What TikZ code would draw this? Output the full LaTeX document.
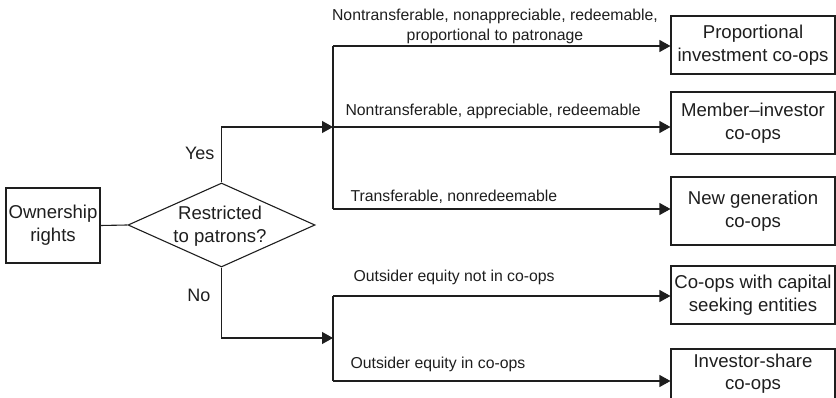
\documentclass[tikz,border=0pt]{standalone}
\usepackage{fontspec}
\setmainfont{Liberation Sans}
\usetikzlibrary{arrows.meta,shapes.geometric}
\definecolor{ink}{HTML}{1E1E1E}
\begin{document}
\begin{tikzpicture}[x=1pt,y=-1pt,
  line width=1.1pt, draw=ink, text=ink,
  every node/.style={inner sep=0pt},
  boxtext/.style={font=\fontsize{18.6}{23}\selectfont, align=center},
  catbox/.style={draw, boxtext, minimum width=164pt},
  decision/.style={draw, diamond, minimum width=187pt, minimum height=84pt},
  edgelabel/.style={font=\fontsize{15.8}{20}\selectfont, anchor=base west},
  branchlabel/.style={font=\fontsize{18}{22}\selectfont, anchor=base east},
  flow/.style={-{Triangle[length=11pt,width=12pt]}},
]
\useasboundingbox (0,0) rectangle (836,398);

% start and decision
\node[draw, boxtext, minimum width=94pt, minimum height=75pt] (own) at (53,225.5) {Ownership\\rights};
\node[decision] (q) at (221.5,225) {};
\node[boxtext] (qt) at (220,226) {Restricted\\to patrons?};

% outcome boxes
\node[catbox, minimum height=58pt] (b1) at (753,45)  {Proportional\\investment co-ops};
\node[catbox, minimum height=62pt] (b2) at (753,123) {Member--investor\\co-ops};
\node[catbox, minimum height=68pt] (b3) at (753,211) {New generation\\co-ops};
\node[catbox, minimum height=58pt] (b4) at (753,295) {Co-ops with capital\\seeking entities};
\node[catbox, minimum height=66pt] (b5) at (753,382) {};
\node[boxtext, font=\fontsize{18.6}{22}\selectfont] (b5t) at (753,374) {Investor-share\\co-ops};

% junction points on the two trunks
\coordinate (yj) at (333,127);
\coordinate (nj) at (333,338);
\coordinate (t1) at (333,46);
\coordinate (t3) at (333,209);
\coordinate (t4) at (333,296);
\coordinate (t5) at (333,381);

% connectors
\draw (own.east) -- (q.west);
\draw[flow] (q.north) |- (yj);
\draw[flow] (q.south) |- (nj);
\draw (t1) -- (t3);
\draw (t4) -- (t5);
\draw[flow] (t1) -- (t1 -| b1.west);
\draw[flow] (yj) -- (yj -| b2.west);
\draw[flow] (t3) -- (t3 -| b3.west);
\draw[flow] (t4) -- (t4 -| b4.west);
\draw[flow] (t5) -- (t5 -| b5.west);

% branch labels
\node[branchlabel] (yes) at (215,160) {Yes};
\node[branchlabel] (no) at (211,301.7) {No};

% edge labels
\node[edgelabel, anchor=base] (l1a) at (495,21) {Nontransferable, nonappreciable, redeemable,};
\node[edgelabel, anchor=base] (l1b) at (495,41) {proportional to patronage};
\node[edgelabel] (l2) at (345,116) {Nontransferable, appreciable, redeemable};
\node[edgelabel] (l3) at (350,201.5) {Transferable, nonredeemable};
\node[edgelabel] (l4) at (353,281.5) {Outsider equity not in co-ops};
\node[edgelabel] (l5) at (350,368) {Outsider equity in co-ops};
\end{tikzpicture}
\end{document}
